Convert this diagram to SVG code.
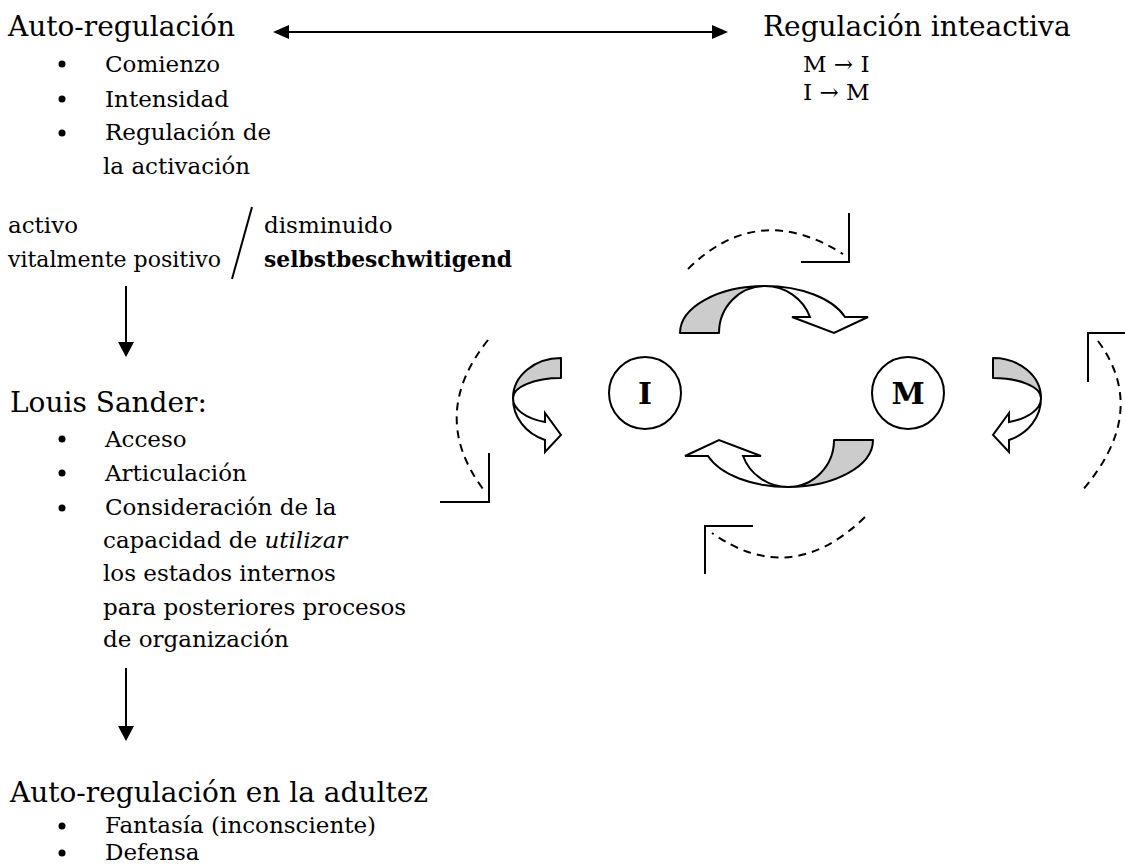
<svg xmlns="http://www.w3.org/2000/svg" width="1125" height="865" viewBox="0 0 1125 865">
<style>
text{font-family:"DejaVu Serif","Liberation Serif",serif;fill:#000}
.h{font-size:28px}
.b{font-size:23px}
.bold{font-weight:bold}
.it{font-style:italic}
.ln{stroke:#000;stroke-width:2;fill:none}
.dash{stroke:#000;stroke-width:2;fill:none;stroke-dasharray:8 6}
.gray{fill:#cccccc;stroke:#000;stroke-width:2;stroke-linejoin:round}
.white{fill:#fff;stroke:#000;stroke-width:2;stroke-linejoin:miter}
.node{fill:#fff;stroke:#000;stroke-width:2}
.dot{fill:#000}
.cl{font-size:30px;font-weight:bold;text-anchor:middle}
</style>
<rect width="1125" height="865" fill="#fff"/>

<g id="autoregulacion">
<text class="h" x="8" y="36">Auto-regulación</text>
<circle class="dot" cx="62" cy="64" r="3.5"/>
<text class="b" x="105" y="72">Comienzo</text>
<circle class="dot" cx="62" cy="99" r="3.5"/>
<text class="b" x="105" y="107">Intensidad</text>
<circle class="dot" cx="62" cy="133" r="3.5"/>
<text class="b" x="105" y="140">Regulación de</text>
<text class="b" x="103" y="174">la activación</text>
</g>

<g id="regulacion-interactiva">
<text class="h" x="763" y="36">Regulación inteactiva</text>
<text class="b" x="803" y="72">M → I</text>
<text class="b" x="803" y="100">I → M</text>
</g>

<g id="estados">
<text class="b" x="8" y="233">activo</text>
<text class="b" x="8" y="267" textLength="213" lengthAdjust="spacingAndGlyphs">vitalmente positivo</text>
<line class="ln" x1="252" y1="207" x2="232" y2="279"/>
<text class="b" x="264" y="233">disminuido</text>
<text class="b bold" x="264" y="267" textLength="248" lengthAdjust="spacingAndGlyphs">selbstbeschwitigend</text>
</g>

<g id="louis-sander">
<text class="h" x="10" y="412">Louis Sander:</text>
<circle class="dot" cx="62" cy="439" r="3.5"/>
<text class="b" x="105" y="447">Acceso</text>
<circle class="dot" cx="62" cy="473" r="3.5"/>
<text class="b" x="105" y="481">Articulación</text>
<circle class="dot" cx="62" cy="508" r="3.5"/>
<text class="b" x="105" y="515">Consideración de la</text>
<text class="b" x="103" y="548">capacidad de <tspan class="it">utilizar</tspan></text>
<text class="b" x="103" y="581">los estados internos</text>
<text class="b" x="103" y="615">para posteriores procesos</text>
<text class="b" x="103" y="647">de organización</text>
</g>

<g id="adultez">
<text class="h" x="10" y="802">Auto-regulación en la adultez</text>
<circle class="dot" cx="62" cy="826" r="3.5"/>
<text class="b" x="105" y="833">Fantasía (inconsciente)</text>
<circle class="dot" cx="62" cy="853" r="3.5"/>
<text class="b" x="105" y="860">Defensa</text>
</g>

<g id="node-I">
<circle class="node" cx="645" cy="393" r="36"/>
<text class="cl" x="645" y="404">I</text>
</g>
<g id="node-M">
<circle class="node" cx="908" cy="393" r="36"/>
<text class="cl" x="908" y="404">M</text>
</g>

<g id="loop-arrows">
<path class="gray" d="M 680 333 A 85 47 0 0 1 765 286 A 46 47 0 0 0 719 333 Z"/>
<path class="white" d="M 765 286 A 85 47 0 0 1 845 317 L 868 317 L 834 333 L 792 317 L 810 317 A 48 47 0 0 0 765 286 Z"/>
<g transform="rotate(180 776.5 386.5)">
<path class="gray" d="M 680 333 A 85 47 0 0 1 765 286 A 46 47 0 0 0 719 333 Z"/>
<path class="white" d="M 765 286 A 85 47 0 0 1 845 317 L 868 317 L 834 333 L 792 317 L 810 317 A 48 47 0 0 0 765 286 Z"/>
</g>
<path class="gray" d="M 561 358 A 48 40 0 0 0 513 398 A 48 20 0 0 1 561 378 Z"/>
<path class="white" d="M 513 398 A 48 44 0 0 0 545 440 L 545 452 L 561 435 L 545 413 L 545 422 A 48 25 0 0 1 513 398 Z"/>
<path class="gray" d="M 993 358 A 48 40 0 0 1 1041 398 A 48 20 0 0 0 993 378 Z"/>
<path class="white" d="M 1041 398 A 48 44 0 0 1 1009 440 L 1009 452 L 993 435 L 1009 413 L 1009 422 A 48 25 0 0 0 1041 398 Z"/>
</g>

<g id="connectors">
<line class="ln" x1="287" y1="32" x2="714" y2="32"/>
<polygon points="273,32 289,25 289,39"/>
<polygon points="728,32 712,25 712,39"/>
<line class="ln" x1="126" y1="286" x2="126" y2="343"/>
<polygon points="118,342 134,342 126,357"/>
<line class="ln" x1="126" y1="668" x2="126" y2="727"/>
<polygon points="118,726 134,726 126,741"/>
<path class="dash" d="M 688 269 Q 758 200 843 254"/>
<path class="ln" d="M 849 213 L 849 262 L 801 262"/>
<path class="dash" d="M 865 517 Q 791 589 712 533"/>
<path class="ln" d="M 753 526 L 705 526 L 705 574"/>
<path class="dash" d="M 488 340 Q 428 415 483 489"/>
<path class="ln" d="M 489 453 L 489 502 L 440 502"/>
<path class="dash" d="M 1098 341 Q 1151 413 1080 493"/>
<path class="ln" d="M 1125 333 L 1088 333 L 1088 382"/>
</g>
</svg>
